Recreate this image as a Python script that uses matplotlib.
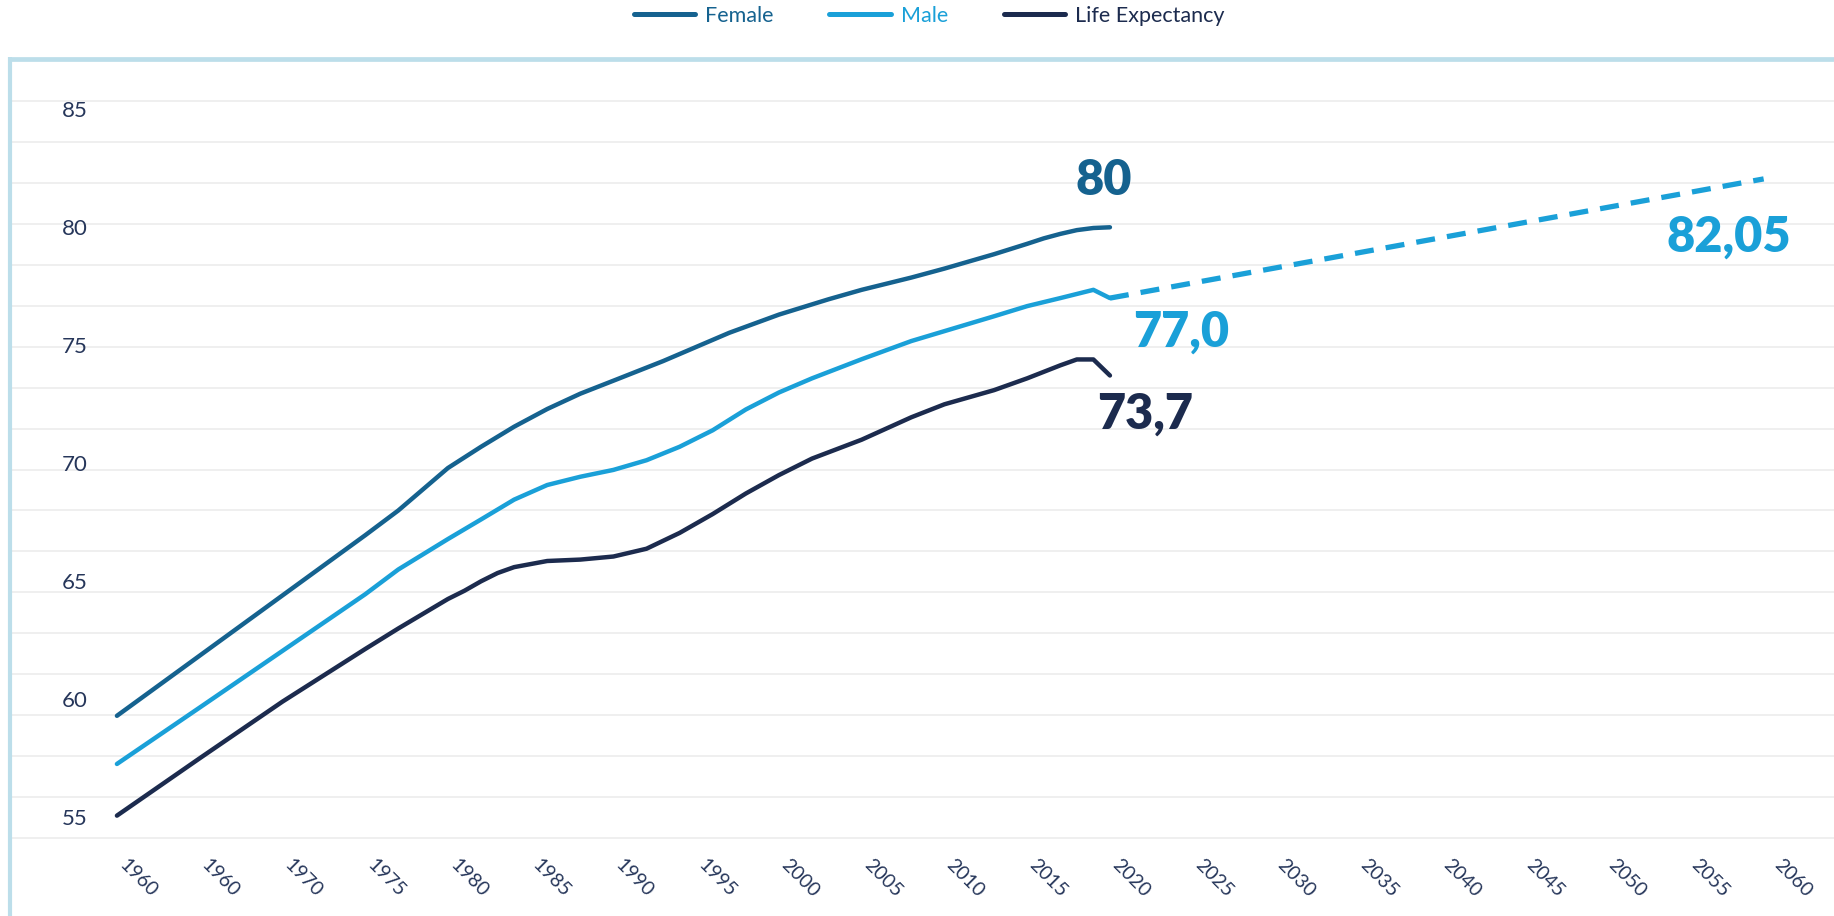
import matplotlib
matplotlib.use("Agg")
import matplotlib.pyplot as plt
from matplotlib.lines import Line2D
from matplotlib.transforms import ScaledTranslation
import numpy as np

# ---------------- data ----------------
female_years = [1960, 1965, 1970, 1975, 1977, 1980, 1982, 1984, 1986, 1988, 1990, 1993, 1995,
                1997, 2000, 2003, 2005, 2008, 2010, 2013, 2015, 2016, 2017, 2018, 2019, 2020]
female = [59.3, 61.85, 64.4, 66.95, 68.0, 69.8, 70.7, 71.55, 72.3, 72.95, 73.5, 74.33, 74.93,
          75.53, 76.3, 76.95, 77.35, 77.87, 78.25, 78.86, 79.3, 79.53, 79.72, 79.88, 79.97, 80.0]

male_years = [1960, 1965, 1970, 1975, 1977, 1980, 1982, 1984, 1986, 1988, 1990, 1992, 1994,
              1996, 1998, 2000, 2002, 2005, 2008, 2010, 2013, 2015, 2017, 2019, 2020]
male = [57.26, 59.65, 62.05, 64.45, 65.5, 66.79, 67.62, 68.46, 69.08, 69.43, 69.72, 70.13, 70.7,
        71.4, 72.28, 73.0, 73.6, 74.41, 75.18, 75.6, 76.23, 76.66, 77.0, 77.35, 77.0]

proj_years = [2020, 2059.5]
proj_male = [77.0, 82.05]

le_years = [1960, 1965, 1970, 1975, 1977, 1980, 1981, 1982, 1983, 1984, 1986, 1988, 1990, 1992,
            1994, 1996, 1998, 2000, 2002, 2005, 2008, 2010, 2013, 2015, 2017, 2018, 2019, 2020]
life_exp = [55.07, 57.5, 59.9, 62.13, 63.0, 64.25, 64.6, 65.0, 65.35, 65.6, 65.86, 65.92, 66.05,
            66.38, 67.05, 67.85, 68.72, 69.5, 70.2, 71.0, 71.95, 72.5, 73.1, 73.6, 74.15, 74.4,
            74.4, 73.72]

y_ticks = [55, 60, 65, 70, 75, 80, 85]
x_tick_years = [1960, 1965, 1970, 1975, 1980, 1985, 1990, 1995, 2000, 2005, 2010, 2015, 2020,
                2025, 2030, 2035, 2040, 2045, 2050, 2055, 2060]
x_tick_labels = ["1960", "1960", "1970", "1975", "1980", "1985", "1990", "1995", "2000", "2005",
                 "2010", "2015", "2020", "2025", "2030", "2035", "2040", "2045", "2050", "2055",
                 "2060"]

series_names = ["Female", "Male", "Life Expectancy"]

ann_texts = ["80", "77,0", "73,7", "82,05"]
ann_x = [2019.6, 2024.3, 2022.1, 2057.4]
ann_y = [81.36, 74.94, 71.48, 78.97]

# ---------------- style ----------------
C_F = "#15628f"
C_M = "#1aa0d8"
C_LE = "#1c2b4e"
C_TXT = "#26365a"
C_BORDER = "#bcdeea"
C_GRID = "#ebebeb"
ann_colors = [C_F, C_M, C_LE, C_M]

W, H, DPI = 1834, 916, 100
fig = plt.figure(figsize=(W / DPI, H / DPI), dpi=DPI)
fig.patch.set_facecolor("white")

ax_left, ax_right = 12 / W, 1.0
ax_top, ax_bot = 1 - 100.7 / H, 1 - 838.3 / H
ax = fig.add_axes([ax_left, ax_bot, ax_right - ax_left, ax_top - ax_bot])
ax.set_xlim(1953.66, 2063.75)
ax.set_ylim(54.11, 85.364)
for s in ax.spines.values():
    s.set_visible(False)

# background grid (equally spaced in the frame)
for f in np.linspace(0, 1, 19):
    ax.plot([0, 1], [f, f], transform=ax.transAxes, color=C_GRID, lw=1.1, zorder=0,
            clip_on=False)

# lines
lw = 3.2
ax.plot(female_years, female, color=C_F, lw=lw, solid_capstyle="round",
        solid_joinstyle="round", zorder=3)
ax.plot(male_years, male, color=C_M, lw=lw, solid_capstyle="round",
        solid_joinstyle="round", zorder=3)
ax.plot(proj_years, proj_male, color=C_M, lw=3.8, linestyle=(0, (3.6, 2.3)), zorder=3)
ax.plot(le_years, life_exp, color=C_LE, lw=lw, solid_capstyle="round",
        solid_joinstyle="round", zorder=3)

# annotations
for t, x, y, c in zip(ann_texts, ann_x, ann_y, ann_colors):
    ax.text(x, y, t, color=c, fontsize=35, fontweight="heavy", family="Lato",
            ha="center", va="baseline", zorder=4)

# y ticks (inside the frame)
ax.set_yticks(y_ticks)
ax.set_yticklabels([str(v) for v in y_ticks], family="Lato", fontsize=16, color=C_TXT)
ax.tick_params(axis="y", length=0, pad=-54.2)

# x ticks (rotated)
ax.set_xticks(x_tick_years)
ax.set_xticklabels(x_tick_labels, family="Lato", fontsize=14, color=C_TXT,
                   rotation=-45, ha="left", va="center", rotation_mode="anchor")
ax.tick_params(axis="x", length=0, pad=17)
off = ScaledTranslation(5 / DPI, 0, fig.dpi_scale_trans)
for lab in ax.get_xticklabels():
    lab.set_transform(lab.get_transform() + off)

# frame border (light blue, left + top)
fig.add_artist(Line2D([10 / W, 10 / W], [0, 1 - 57 / H], color=C_BORDER, lw=3,
                      transform=fig.transFigure, solid_capstyle="butt"))
fig.add_artist(Line2D([10 / W - 1.5 / W, 1], [1 - 58.5 / H, 1 - 58.5 / H], color=C_BORDER,
                      lw=3.4, transform=fig.transFigure, solid_capstyle="butt"))

# legend
handles = [Line2D([], [], color=c, lw=3.6, solid_capstyle="round") for c in (C_F, C_M, C_LE)]
leg = fig.legend(handles, series_names, loc="center", bbox_to_anchor=(0.5066, 1 - 16 / H),
                 ncol=3, frameon=False, handlelength=2.85, handletextpad=0.45,
                 columnspacing=2.6, prop={"family": "Lato", "size": 15.5})
for txt, c in zip(leg.get_texts(), (C_F, C_M, C_LE)):
    txt.set_color(c)

fig.savefig("out.png", dpi=DPI, facecolor="white")
